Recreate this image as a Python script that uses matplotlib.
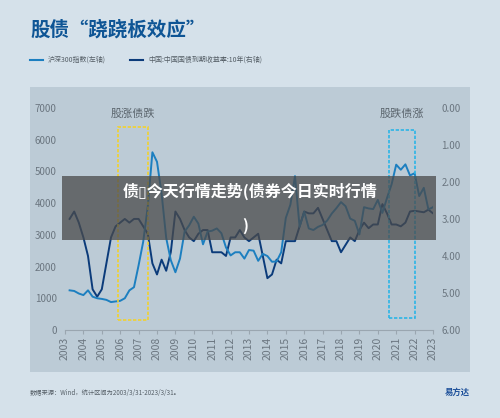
import matplotlib
matplotlib.use("Agg")
import matplotlib.pyplot as plt
import matplotlib.patches as mpatches
import numpy as np

plt.rcParams['font.family'] = ['Noto Sans CJK SC', 'DejaVu Sans']

# ─── データ（四半期末の読み取り値）───
csi300 = [1250, 1230, 1150, 1100, 1250, 1050, 1000, 980, 950, 880, 900, 920,
          1000, 1250, 1350, 2040, 2780, 3900, 5600, 5300, 4300, 2900, 2200, 1820,
          2250, 3100, 3300, 3570, 3350, 2700, 3100, 3130, 3200, 3050, 2600, 2350,
          2450, 2450, 2250, 2520, 2500, 2180, 2400, 2330, 2150, 2160, 2450, 3530,
          3950, 4850, 3250, 3730, 3200, 3150, 3250, 3310, 3450, 3670, 3840, 4030,
          3900, 3510, 3440, 3010, 3870, 3830, 3810, 4100, 3690, 4160, 4590, 5210,
          5050, 5220, 4870, 4940, 4220, 4480, 3800, 3870, 4050]
yield10 = [3.0, 2.8, 3.1, 3.5, 4.0, 4.9, 5.1, 4.9, 4.2, 3.5, 3.2, 3.1,
           3.0, 3.1, 3.0, 3.0, 3.2, 3.4, 4.2, 4.5, 4.1, 4.4, 3.9, 2.8,
           3.0, 3.3, 3.5, 3.6, 3.4, 3.3, 3.3, 3.9, 3.9, 3.9, 4.0, 3.5,
           3.5, 3.3, 3.5, 3.6, 3.5, 3.4, 4.0, 4.6, 4.5, 4.1, 4.2, 3.6,
           3.6, 3.6, 3.2, 2.8, 2.85, 2.85, 2.7, 3.0, 3.3, 3.6, 3.6, 3.9,
           3.7, 3.5, 3.6, 3.3, 3.1, 3.25, 3.15, 3.15, 2.6, 2.85, 3.15, 3.15,
           3.2, 3.1, 2.8, 2.78, 2.8, 2.82, 2.75, 2.85, 2.85]
years = list(range(2003, 2024))
t = 2003.25 + np.arange(len(csi300)) * 0.25

fig = plt.figure(figsize=(5, 4.18), dpi=100)
fig.patch.set_facecolor('#d5e1ea')

# パネル背景
fig.patches.append(mpatches.Rectangle((0.06, 0.11), 0.88, 0.682, transform=fig.transFigure,
                                      facecolor='#bccbd6', zorder=-5))

fig.text(0.06, 0.915, '股债“跷跷板效应”', fontsize=14, fontweight='bold', color='#0e5595')
fig.lines.append(plt.Line2D([0.06, 0.085], [0.857, 0.857], transform=fig.transFigure, color='#1c7fc0', lw=1.5))
fig.text(0.096, 0.857, '沪深300指数(左轴)', fontsize=5, color='#555e66', va='center')
fig.lines.append(plt.Line2D([0.26, 0.285], [0.857, 0.857], transform=fig.transFigure, color='#0b3b7a', lw=1.5))
fig.text(0.296, 0.857, '中国:中国国债到期收益率:10年(右轴)', fontsize=5, color='#555e66', va='center')

ax = fig.add_axes([0.13, 0.2105, 0.736, 0.5315])
ax2 = ax.twinx()
ax.patch.set_visible(False)
ax2.patch.set_visible(False)
ax2.set_zorder(1)
ax.set_zorder(2)
ax2.plot(t, yield10, color='#0b3b7a', lw=1.4)
ax.plot(t, csi300, color='#1c7fc0', lw=1.4, zorder=3)
ax.set_ylim(0, 7000)
ax2.set_ylim(6, 0)
ax.set_xlim(2003, 2023)
ax.set_yticks(range(0, 7001, 1000))
ax2.set_yticks(range(7))
ax2.set_yticklabels([f'{v:.2f}' for v in range(7)])
ax.set_xticks(years)
ax.set_xticklabels([str(y) for y in years], rotation=90)
for a in (ax, ax2):
    for s in a.spines.values():
        s.set_visible(False)
    a.tick_params(labelsize=7, colors='#6b7680', length=0, pad=6)
ax.spines['bottom'].set_visible(True)
ax.spines['bottom'].set_color('#9aa6b0')
ax.tick_params(axis='x', length=3, color='#9aa6b0', pad=2, labelsize=7.5)

ax.add_patch(mpatches.Rectangle((2005.9, 300), 1.6, 6100, fill=False, ls=(0, (2, 1)),
                                edgecolor='#f2d22e', lw=1.2, zorder=4))
ax.add_patch(mpatches.Rectangle((2020.6, 380), 1.4, 5920, fill=False, ls=(0, (2, 1)),
                                edgecolor='#2bb5e6', lw=1.2, zorder=4))
ax.text(2006.7, 6700, '股涨债跌', ha='center', fontsize=8, color='#5a646c')
ax.text(2021.3, 6700, '股跌债涨', ha='center', fontsize=8, color='#5a646c')

# 透かしバナー
fig.patches.append(mpatches.Rectangle((0.124, 0.426), 0.748, 0.153, transform=fig.transFigure,
                                      facecolor='#4a4a4a', alpha=0.75, zorder=10))
fig.text(0.5, 0.542, '债\u25af今天行情走势(债券今日实时行情', ha='center', va='center', fontsize=11.5,
         fontweight='bold', color='white', zorder=11)
fig.text(0.49, 0.46, ')', ha='center', va='center', fontsize=11.5, fontweight='bold',
         color='white', zorder=11)

fig.text(0.06, 0.055, '数据来源：Wind，统计区间为2003/3/31-2023/3/31。', fontsize=4.5, color='#555e66')
fig.text(0.94, 0.055, '易方达', fontsize=6, fontweight='bold', color='#1c4f9a', ha='right')

fig.savefig('out.png', dpi=100, facecolor=fig.get_facecolor())
